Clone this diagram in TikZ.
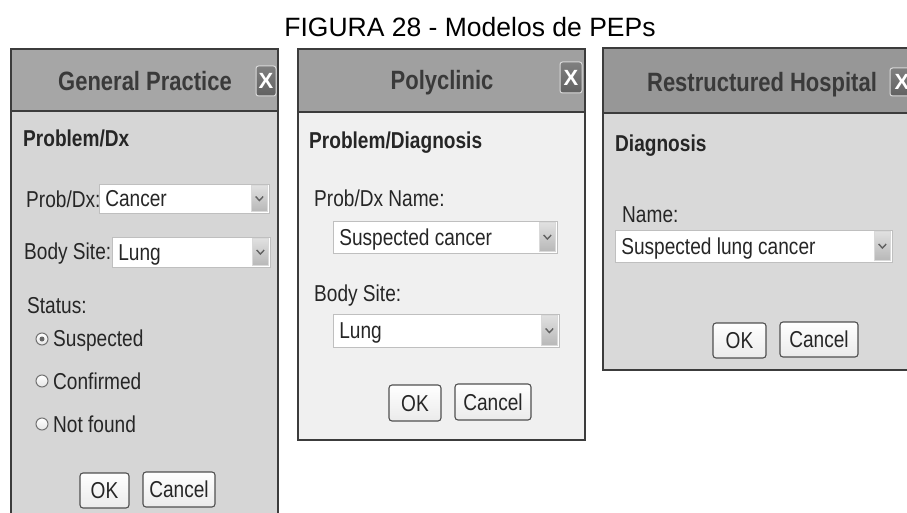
\documentclass[tikz,border=0pt]{standalone}
\usepackage{fontspec}
\setmainfont{Liberation Sans}
\newfontfamily\uifont[FakeStretch=0.83]{Liberation Sans}
\usetikzlibrary{fit}

\definecolor{textc}{HTML}{262626}
\definecolor{titlec}{HTML}{3A3A3A}
\definecolor{edgec}{HTML}{3C3C3C}
\definecolor{barA}{HTML}{A6A6A6}
\definecolor{bodyA}{HTML}{D6D6D6}
\definecolor{barB}{HTML}{A0A0A0}
\definecolor{bodyB}{HTML}{F0F0F0}
\definecolor{barC}{HTML}{979797}
\definecolor{bodyC}{HTML}{D9D9D9}

\tikzset{
  uitext/.style={inner sep=0pt, text=textc, text height=16.5pt, text depth=0pt,
    font=\uifont\fontsize{23}{27}\selectfont},
  lbl/.style={uitext, anchor=west},
  hdr/.style={lbl, font=\uifont\bfseries\fontsize{23}{27}\selectfont},
  wintitle/.style={inner sep=0pt, anchor=center, text=titlec, text height=19pt, text depth=0pt,
    font=\uifont\bfseries\fontsize{26.5}{30}\selectfont},
  panel/.style={draw=edgec, line width=1.6pt},
  barline/.style={draw=edgec, line width=1.6pt},
  ddframe/.style={inner sep=0pt, draw=black!25, fill=white, line width=0.8pt},
  ddbtn/.style={inner sep=0pt, draw=black!15, top color=black!12, bottom color=black!28},
  chev/.style={draw=black!62, line width=1.4pt},
  btn/.style={inner sep=0pt, draw=edgec!90, line width=1.1pt, rounded corners=3pt,
    top color=white, bottom color=black!8},
  closebtn/.style={inner sep=0pt, draw=black!15, line width=1pt, rounded corners=2.5pt,
    top color=black!50, bottom color=black!62},
  closex/.style={inner sep=0pt, text=white, font=\bfseries\fontsize{22}{23}\selectfont},
  radio/.style={circle, minimum size=12pt, inner sep=0pt, draw=black!55, line width=1pt,
    top color=white, bottom color=black!10},
}

% drop-down field: name, top-left corner, bottom-right corner, shown value
\newcommand\ddfield[4]{%
  \node[ddframe, fit={#2 #3}] (#1) {};
  \node[lbl] (#1t) at ([xshift=6.5pt]#1.west) {#4};
  \node[ddbtn, fit={([xshift=-18pt,yshift=-2pt]#1.north east) ([xshift=-2pt,yshift=2pt]#1.south east)}] (#1b) {};
  \draw[chev] ([xshift=-3.8pt,yshift=2pt]#1b.center) -- ([yshift=-2pt]#1b.center) -- ([xshift=3.8pt,yshift=2pt]#1b.center);
}
% push button: name, top-left corner, bottom-right corner, caption
\newcommand\pushbtn[4]{%
  \node[btn, fit={#2 #3}] (#1) {};
  \node[uitext, anchor=center] (#1t) at (#1.center) {#4};
}
% close box in a title bar
\newcommand\closebox[3]{%
  \node[closebtn, fit={#2 #3}] (#1) {};
  \node[closex] (#1x) at (#1.center) {X};
}

\begin{document}
\begin{tikzpicture}[x=1pt, y=-1pt]
\useasboundingbox (0,0) rectangle (907,513);
\clip (0,0) rectangle (907,513);

% caption
\node[inner sep=0pt, text height=18.6pt, text depth=0pt, text=black,
  font=\fontsize{26.5}{30}\selectfont] (caption) at (470,27) {FIGURA 28 - Modelos de PEPs};

% ---------- General Practice ----------
\fill[bodyA] (11,49) rectangle (278,530);
\fill[barA] (11,49) rectangle (278,111);
\draw[barline] (11,111) -- (278,111);
\draw[panel] (11,530) -- (11,49) -- (278,49) -- (278,530);
\node[wintitle] (gpTitle) at (145,81) {General Practice};
\closebox{gpClose}{(256,66)}{(276,96)}

\node[hdr] (gpHead) at (23,138) {Problem/Dx};
\node[lbl] (gpProb) at (26,199) {Prob/Dx:};
\ddfield{gpProbDD}{(99,184)}{(269,213)}{Cancer}
\node[lbl] (gpSite) at (24,251) {Body Site:};
\ddfield{gpSiteDD}{(112,237)}{(270,267)}{Lung}
\node[lbl] (gpStatus) at (27,305) {Status:};

\node[radio] (r1) at (42,339) {};
\fill[black!60] (r1.center) circle (2.5pt);
\node[lbl] (r1t) at (53,338) {Suspected};
\node[radio] (r2) at (42,381) {};
\node[lbl] (r2t) at (53,381) {Confirmed};
\node[radio] (r3) at (42,424) {};
\node[lbl] (r3t) at (53,424) {Not found};

\pushbtn{gpOK}{(80,473)}{(129,508)}{OK}
\pushbtn{gpCancel}{(143,472)}{(215,507)}{Cancel}

% ---------- Polyclinic ----------
\fill[bodyB] (298,49) rectangle (585,440);
\fill[barB] (298,49) rectangle (585,112);
\draw[barline] (298,112) -- (585,112);
\draw[panel] (298,49) rectangle (585,440);
\node[wintitle] (pcTitle) at (442,80) {Polyclinic};
\closebox{pcClose}{(560,62)}{(582,93)}

\node[hdr] (pcHead) at (309,140) {Problem/Diagnosis};
\node[lbl] (pcName) at (314,198.5) {Prob/Dx Name:};
\ddfield{pcNameDD}{(333,221)}{(557,253)}{Suspected cancer}
\node[lbl] (pcSite) at (314,293.5) {Body Site:};
\ddfield{pcSiteDD}{(333,314)}{(559,347)}{Lung}
\pushbtn{pcOK}{(389,385)}{(441,421)}{OK}
\pushbtn{pcCancel}{(455,384)}{(531,420)}{Cancel}

% ---------- Restructured Hospital ----------
\fill[bodyC] (603,48) rectangle (930,370);
\fill[barC] (603,48) rectangle (930,113);
\draw[barline] (603,113) -- (930,113);
\draw[panel] (930,48) -- (603,48) -- (603,370) -- (930,370);
\node[wintitle] (rhTitle) at (762,82) {Restructured Hospital};
\closebox{rhClose}{(890,68)}{(914,96)}

\node[hdr] (rhHead) at (615,143) {Diagnosis};
\node[lbl] (rhName) at (622,214) {Name:};
\ddfield{rhNameDD}{(615,230)}{(892,262)}{Suspected lung cancer}
\pushbtn{rhOK}{(713,323)}{(766,358)}{OK}
\pushbtn{rhCancel}{(780,322)}{(858,357)}{Cancel}
\end{tikzpicture}
\end{document}
